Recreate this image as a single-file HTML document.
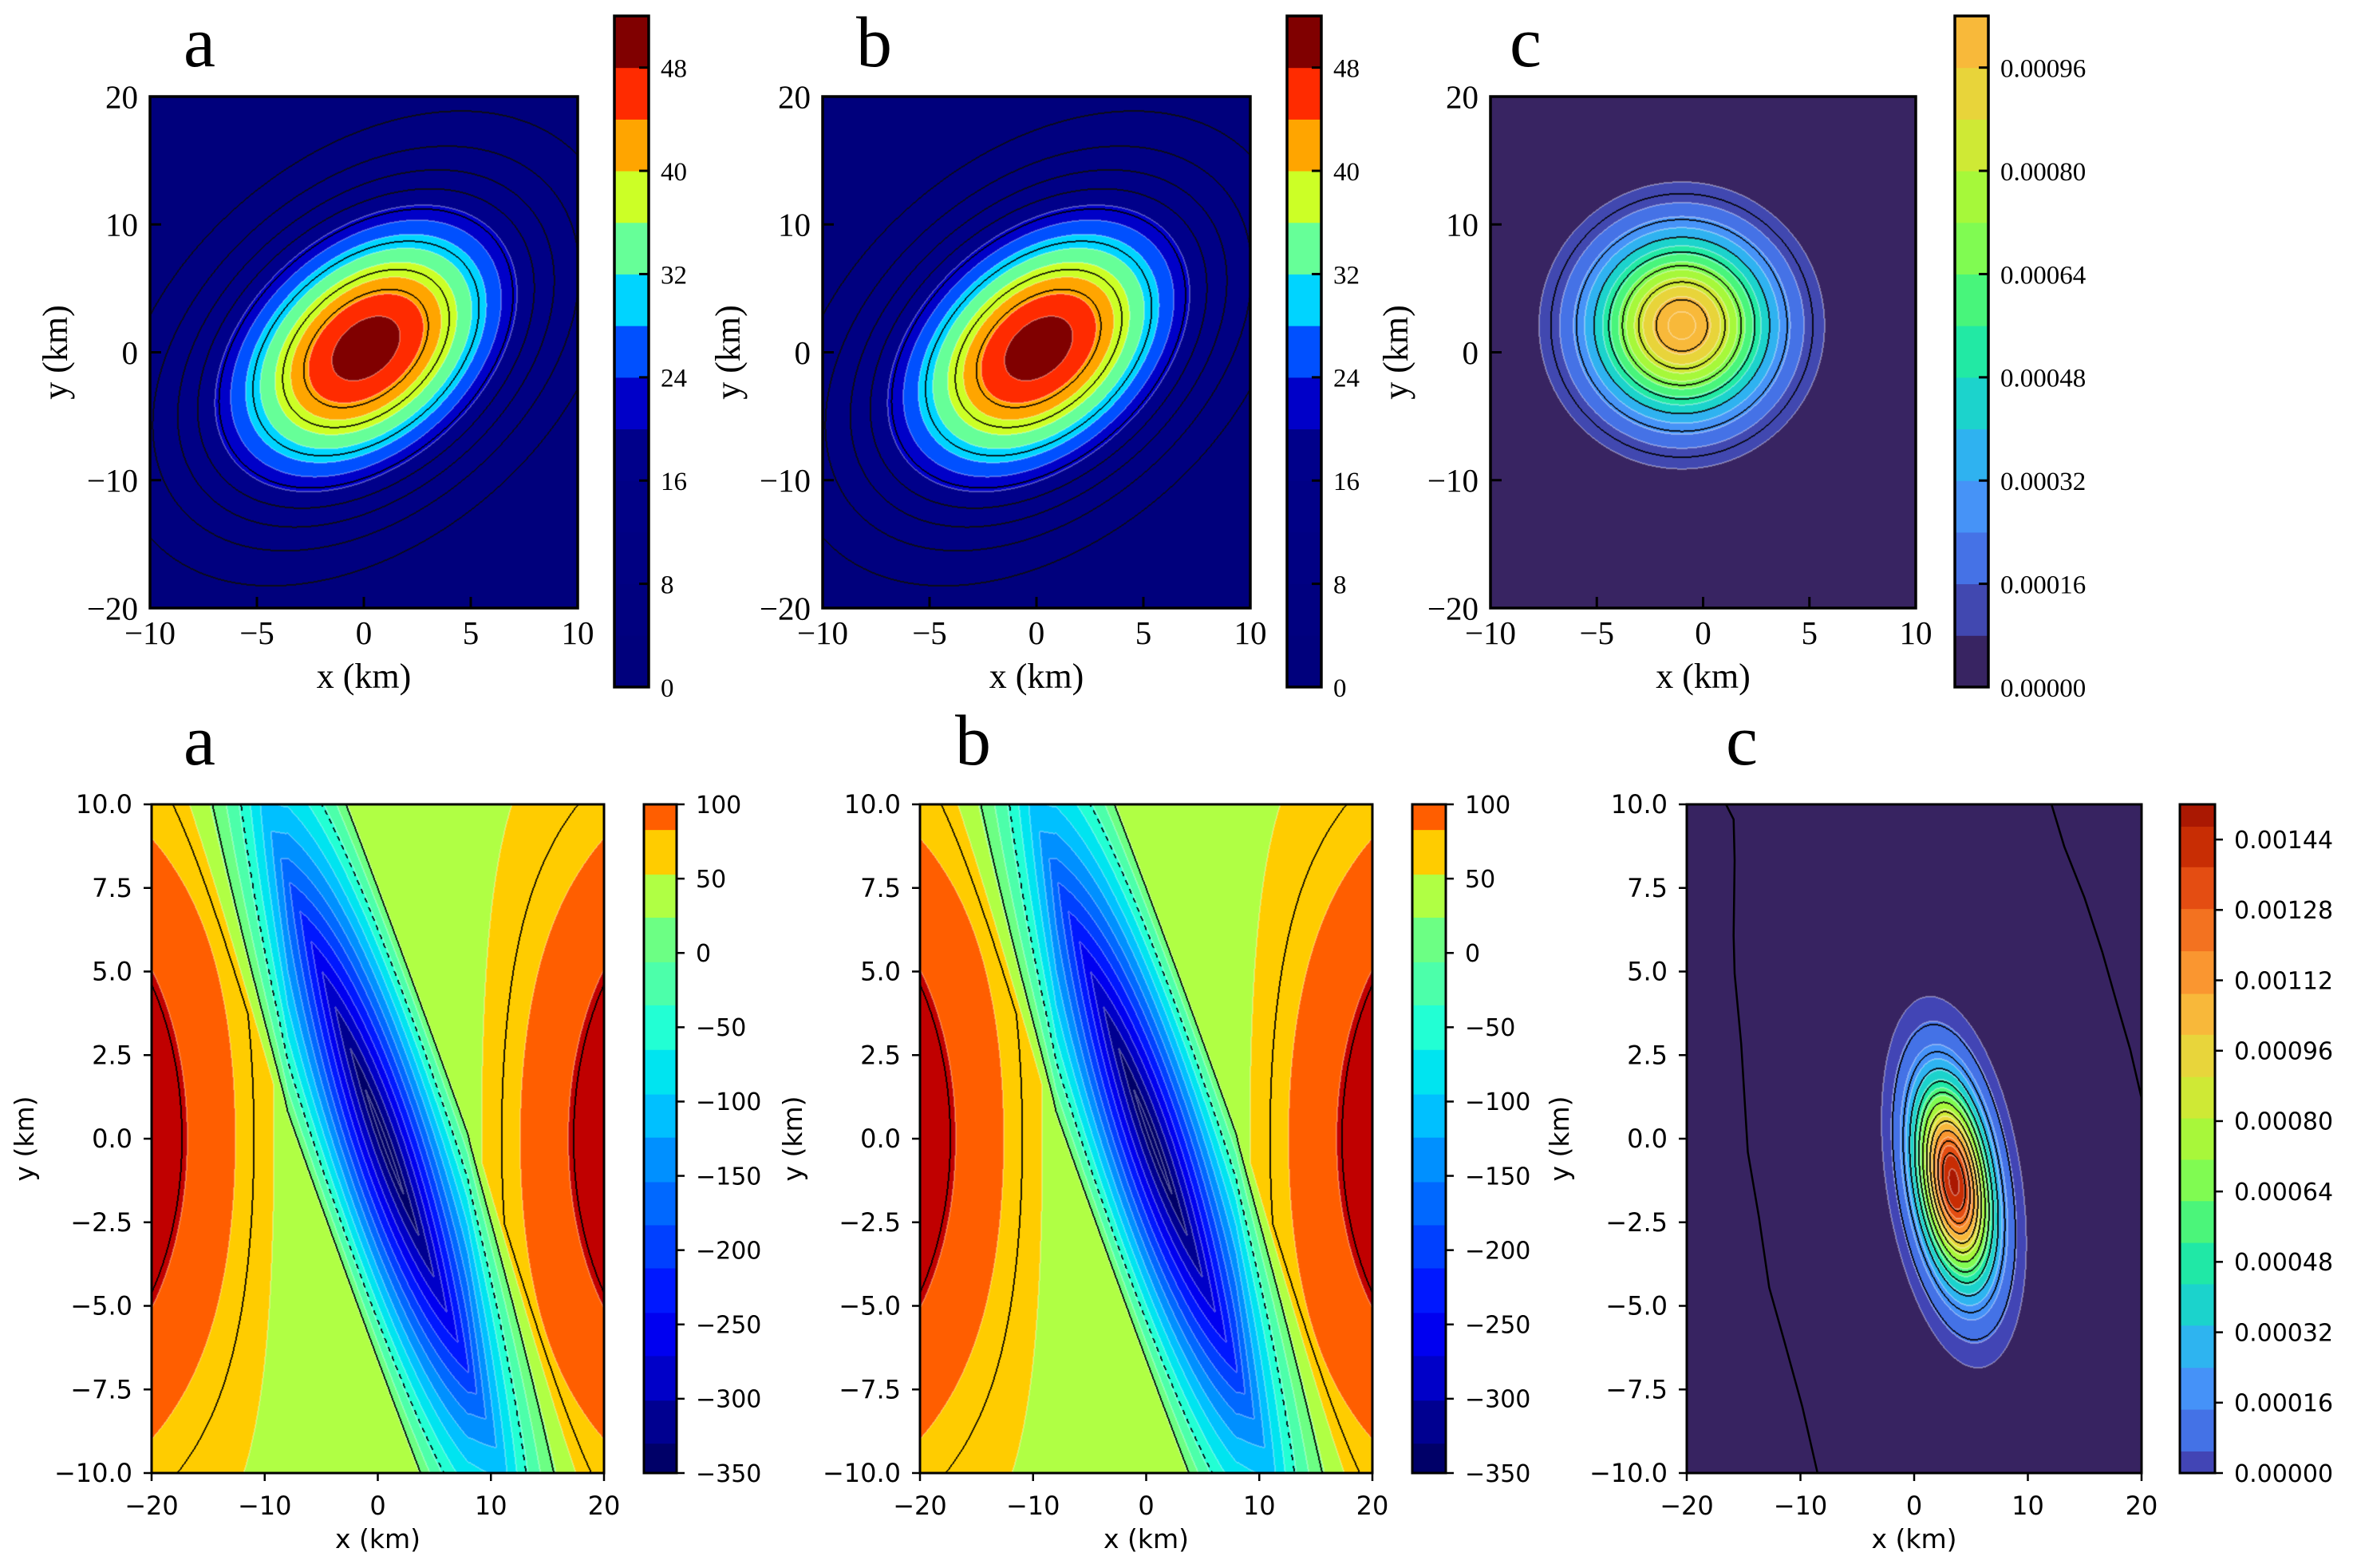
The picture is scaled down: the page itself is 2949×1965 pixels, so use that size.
<!DOCTYPE html>
<html><head><meta charset="utf-8">
<style>
body{margin:0;background:#fff}
#fig{position:relative;width:2949px;height:1965px;overflow:hidden;background:#fff}
#cv,#sv{position:absolute;left:0;top:0}
</style></head>
<body>
<div id="fig">
<canvas id="cv" width="2949" height="1965"></canvas>
<svg id="sv" width="2949" height="1965" xmlns="http://www.w3.org/2000/svg"></svg>
</div>
<script>
// ---------- DATA ----------
const topALevels=[0,4,8,12,16,20,24,28,32,36,40,44,48,52];
const topAColors=['#00007c','#00007f','#000082','#000085','#00008a','#0000c8','#0050ff','#00d4ff','#66ff98','#ccff26','#ffa500','#ff2b00','#800000'];
const topATicks=[0,8,16,24,32,40,48];
const topAPeak=[50.3];
const topACenter=[0.1,0.3];
const topASigma=[5.2,8.25];
const topARho=[0.38];
const topALineLevels=[4,8,12,16,21,30,38,43];

const topCLevels=[0,8e-5,16e-5,24e-5,32e-5,40e-5,48e-5,56e-5,64e-5,72e-5,80e-5,88e-5,96e-5,104e-5];
const topCColors=['#382462','#4148b0','#4572e6','#4693f7','#2fb2f0','#1cd3cc','#22e9a4','#48f57b','#80fb52','#a6f83a','#cfe935','#e8d43a','#f8b93a'];
const topCTicks=[0,16e-5,32e-5,48e-5,64e-5,80e-5,96e-5];
const topCPeak=[1.065e-3];
const topCCenter=[-1.0,2.1];
const topCSigma=[2.95,4.93];
const topCLineLevels=[12e-5,26e-5,40e-5,54e-5,68e-5,84e-5,98e-5];

const botALevels=[-350,-330,-301,-271,-242,-212,-183,-154,-124,-95,-65,-35,-6,24,53,83,112];
const botAColors=['#000068','#000090','#0000c8','#0000f0','#0018ff','#0040ff','#0068ff','#0090ff','#00c0ff','#00e4f0','#22ffd4','#4cffaa','#6cff84','#b0ff44','#ffcc00','#ff5e00'];
const botATicks=[-350,-300,-250,-200,-150,-100,-50,0,50,100];
const botABase=[35];
const botAEdgeAmp=[96];
const botATroughDepth=[395];
const botATroughCenter=[0.6,-0.1];
const botATroughSigma=[10.5];
const botATroughHalfWidth=[5.4];
const botASolidLines=[20,70,115];
const botADashedLines=[-40,-80,-120,-160,-200,-240,-280,-320];

const botCLevels=[0,5e-5,14.5e-5,24e-5,33.6e-5,43e-5,52.4e-5,61.9e-5,71.3e-5,80.7e-5,90.1e-5,99.7e-5,109e-5,118.7e-5,128.3e-5,137.8e-5,147e-5,160e-5];
const botCColors=['#4245b5','#4472e6','#4592f8','#2eb4f0','#1bd3cc','#20e8a6','#4bf57a','#80fb52','#a8f73a','#cfe935','#e8d53b','#f8b83a','#fa9630','#f37220','#e44d12','#c82d04','#aa1802'];
const botCTicks=[0,16e-5,32e-5,48e-5,64e-5,80e-5,96e-5,112e-5,128e-5,144e-5];
const botCPeak=[1.53e-3];
const botCOffset=[3e-5];
const botCCenter=[3.5,-1.3];
const botCSigma=[2.27,1.98];
const botCRho=[-0.33];
const botCLineLevels=[6e-5,19e-5,32e-5,45e-5,58e-5,71e-5,84e-5,97e-5,110e-5,123e-5,136e-5];
const botCLeftLineX=[-16.55,-15.88,-15.79,-15.88,-15.79,-15.21,-14.63,-13.65,-12.75,-11.41,-9.84,-8.50];
const botCLeftLineY=[10,9.55,8.33,6.07,4.94,2.83,-0.40,-2.35,-4.45,-6.07,-8.01,-10];
const botCRightLineX=[12.08,13.2,14.99,16.55,17.9,19.0,20];
const botCRightLineY=[10,8.74,7.2,5.58,3.96,2.67,1.21];

const topXTicks=[-10,-5,0,5,10];
const topYTicks=[-20,-10,0,10,20];
const botXTicks=[-20,-10,0,10,20];
const botYTicks=[-10,-7.5,-5,-2.5,0,2.5,5,7.5,10];

// ---------- FIELDS ----------
function fTopA(x,y){
  const dx=(x-topACenter[0])/topASigma[0], dy=(y-topACenter[1])/topASigma[1], r=topARho[0];
  const q=(dx*dx-2*r*dx*dy+dy*dy)/(1-r*r);
  return topAPeak[0]*Math.exp(-q/2);
}
function fTopC(x,y){
  const dx=(x-topCCenter[0])/topCSigma[0], dy=(y-topCCenter[1])/topCSigma[1];
  return topCPeak[0]*Math.exp(-(dx*dx+dy*dy)/2);
}
function fBotA(x,y){
  const u=Math.max(0,(Math.abs(x)-8)/12);
  const bg=botABase[0]+botAEdgeAmp[0]*Math.pow(u,0.72)*Math.exp(-Math.pow(y/10.8,2));
  const dx=x-botATroughCenter[0], dy=y-botATroughCenter[1];
  const a=0.734*dx-0.679*dy, b=0.679*dx+0.734*dy;
  const A=Math.exp(-0.5*Math.pow(a/botATroughSigma[0],2));
  const B=Math.max(0,1-Math.abs(b)/botATroughHalfWidth[0]);
  return bg-botATroughDepth[0]*A*B;
}
function fBotC(x,y){
  const dx=(x-botCCenter[0])/botCSigma[0], dy=(y-botCCenter[1])/botCSigma[1], r=botCRho[0];
  const q=(dx*dx-2*r*dx*dy+dy*dy)/(1-r*r);
  return botCPeak[0]*Math.exp(-q/2)-botCOffset[0];
}

// ---------- LAYOUT ----------
const panels=[
 {id:'top-a',x0:188,x1:724,y0:121,y1:762,xr:[-10,10],yr:[-20,20],fn:fTopA,levels:topALevels,colors:topAColors,under:'#00007c',over:'#800000',
  cb:{x0:770,x1:813,y0:20,y1:861,vmin:0,vmax:52,ticks:topATicks,fmt:v=>String(v)},style:'serif',letter:'a',lx:230,ly:83,
  lines:[{levels:topALevels,color:'#ffffff',alpha:0.3},{levels:topALineLevels,color:'#000000',alpha:0.85}]},
 {id:'top-b',x0:1031,x1:1567,y0:121,y1:762,xr:[-10,10],yr:[-20,20],fn:fTopA,levels:topALevels,colors:topAColors,under:'#00007c',over:'#800000',
  cb:{x0:1613,x1:1656,y0:20,y1:861,vmin:0,vmax:52,ticks:topATicks,fmt:v=>String(v)},style:'serif',letter:'b',lx:1073,ly:83,
  lines:[{levels:topALevels,color:'#ffffff',alpha:0.3},{levels:topALineLevels,color:'#000000',alpha:0.85}]},
 {id:'top-c',x0:1868,x1:2401,y0:121,y1:762,xr:[-10,10],yr:[-20,20],fn:fTopC,levels:topCLevels,colors:topCColors,under:'#382462',over:'#f8b93a',
  cb:{x0:2450,x1:2492,y0:20,y1:861,vmin:0,vmax:104e-5,ticks:topCTicks,fmt:v=>v.toFixed(5)},style:'serif',letter:'c',lx:1892,ly:83,
  lines:[{levels:topCLevels,color:'#ffffff',alpha:0.35},{levels:topCLineLevels,color:'#000000',alpha:0.85}]},
 {id:'bottom-a',x0:190,x1:757,y0:1008,y1:1846,xr:[-20,20],yr:[-10,10],fn:fBotA,levels:botALevels,colors:botAColors,under:'#000068',over:'#c00000',
  cb:{x0:807,x1:848,y0:1008,y1:1846,vmin:-350,vmax:100,ticks:botATicks,fmt:v=>String(v)},style:'sans',letter:'a',lx:230,ly:958,
  lines:[{levels:botALevels,color:'#ffffff',alpha:0.3},{levels:botASolidLines,color:'#000000',alpha:0.9},{levels:botADashedLines,color:'#000000',alpha:0.9,dash:true}]},
 {id:'bottom-b',x0:1153,x1:1720,y0:1008,y1:1846,xr:[-20,20],yr:[-10,10],fn:fBotA,levels:botALevels,colors:botAColors,under:'#000068',over:'#c00000',
  cb:{x0:1770,x1:1812,y0:1008,y1:1846,vmin:-350,vmax:100,ticks:botATicks,fmt:v=>String(v)},style:'sans',letter:'b',lx:1197,ly:958,
  lines:[{levels:botALevels,color:'#ffffff',alpha:0.3},{levels:botASolidLines,color:'#000000',alpha:0.9},{levels:botADashedLines,color:'#000000',alpha:0.9,dash:true}]},
 {id:'bottom-c',x0:2114,x1:2684,y0:1008,y1:1846,xr:[-20,20],yr:[-10,10],fn:fBotC,levels:botCLevels,colors:botCColors,under:'#372361',over:'#aa1802',
  cb:{x0:2732,x1:2776,y0:1008,y1:1846,vmin:0,vmax:152e-5,ticks:botCTicks,fmt:v=>v.toFixed(5)},style:'sans',letter:'c',lx:2163,ly:958,
  lines:[{levels:botCLevels,color:'#ffffff',alpha:0.35},{levels:botCLineLevels,color:'#000000',alpha:0.9}]}
];

const ctx=document.getElementById('cv').getContext('2d');
const svg=document.getElementById('sv');
const NS='http://www.w3.org/2000/svg';
function mk(tag,attrs,parent){const e=document.createElementNS(NS,tag);for(const k in attrs)e.setAttribute(k,attrs[k]);(parent||svg).appendChild(e);return e;}
function hexRgb(h){return [parseInt(h.slice(1,3),16),parseInt(h.slice(3,5),16),parseInt(h.slice(5,7),16)];}
function bandIdx(v,lv){let k=-1;for(let i=0;i<lv.length;i++){if(v>=lv[i])k=i;else break;}return k;}
function minus(s){return s.replace('-','\u2212');}

function renderField(p){
  const w=p.x1-p.x0,h=p.y1-p.y0;
  const img=ctx.createImageData(w,h);const d=img.data;
  const vals=new Float64Array(w*h);
  for(let j=0;j<h;j++)for(let i=0;i<w;i++){
    const x=p.xr[0]+(i+0.5)/w*(p.xr[1]-p.xr[0]);
    const y=p.yr[1]-(j+0.5)/h*(p.yr[1]-p.yr[0]);
    vals[j*w+i]=p.fn(x,y);
  }
  const cols=p.colors.map(hexRgb),under=hexRgb(p.under),over=hexRgb(p.over);
  for(let n=0;n<w*h;n++){
    const k=bandIdx(vals[n],p.levels);
    const c=k<0?under:(k>=cols.length?over:cols[k]);
    d[4*n]=c[0];d[4*n+1]=c[1];d[4*n+2]=c[2];d[4*n+3]=255;
  }
  for(const ls of p.lines){
    const idx=new Int16Array(w*h);
    for(let n=0;n<w*h;n++)idx[n]=bandIdx(vals[n],ls.levels);
    const col=hexRgb(ls.color),a=ls.alpha;
    const mark=new Uint8Array(w*h);
    for(let j=0;j<h;j++)for(let i=0;i<w;i++){
      const n=j*w+i;
      if(ls.dash && (((i+j)>>3)&1))continue;
      if(i+1<w && idx[n+1]!==idx[n]){mark[n]=1;mark[n+1]=1;}
      if(j+1<h && idx[n+w]!==idx[n]){mark[n]=1;mark[n+w]=1;}
    }
    for(let n=0;n<w*h;n++)if(mark[n]){
      d[4*n]=d[4*n]*(1-a)+col[0]*a;d[4*n+1]=d[4*n+1]*(1-a)+col[1]*a;d[4*n+2]=d[4*n+2]*(1-a)+col[2]*a;
    }
  }
  ctx.putImageData(img,p.x0,p.y0);
}

function drawAxes(p){
  const serif=p.style==='serif';
  const font=serif?'"Liberation Serif", serif':'"DejaVu Sans", "Liberation Sans", sans-serif';
  const g=mk('g',{});
  
  
  const sx=v=>p.x0+(v-p.xr[0])/(p.xr[1]-p.xr[0])*(p.x1-p.x0);
  const sy=v=>p.y1-(v-p.yr[0])/(p.yr[1]-p.yr[0])*(p.y1-p.y0);
  const xt=serif?topXTicks:botXTicks, yt=serif?topYTicks:botYTicks;
  const tl=serif?14:10, tw=serif?3:2.5;
  const tfs=serif?41:32;
  for(const v of xt){
    const X=sx(v);
    const t=mk('line',{x1:X,x2:X,y1:serif?p.y1-tl:p.y1,y2:serif?p.y1:p.y1+tl,stroke:'#000','stroke-width':tw},g);
    
    
    const lb=mk('text',{x:X,y:serif?807:1898,'text-anchor':'middle','font-family':font,'font-size':tfs,fill:'#000'},g);
    lb.textContent=minus(String(v));
    
    
  }
  for(const v of yt){
    const Y=sy(v);
    const t=mk('line',{x1:serif?p.x0:p.x0-tl,x2:serif?p.x0+tl:p.x0,y1:Y,y2:Y,stroke:'#000','stroke-width':tw},g);
    
    
    const lb=mk('text',{x:serif?p.x0-15:p.x0-24,y:Y+tfs*0.35,'text-anchor':'end','font-family':font,'font-size':tfs,fill:'#000'},g);
    lb.textContent=minus(serif?String(v):v.toFixed(1));
    
    
  }
  const fr=mk('rect',{x:p.x0,y:p.y0,width:p.x1-p.x0,height:p.y1-p.y0,fill:'none',stroke:'#000','stroke-width':serif?3.5:3},g);
  
  
  const xl=mk('text',{x:(p.x0+p.x1)/2,y:serif?862:1940,'text-anchor':'middle','font-family':font,'font-size':serif?44:33,fill:'#000'},g);
  xl.textContent='x (km)';
  
  
  const yx=serif?p.x0-104:p.x0-148, yy=(p.y0+p.y1)/2;
  const yl=mk('text',{x:yx,y:yy,'text-anchor':'middle','font-family':font,'font-size':serif?44:33,fill:'#000',transform:`rotate(-90 ${yx} ${yy})`},g);
  yl.textContent='y (km)';
  
  
  const le=mk('text',{x:p.lx,y:p.ly,'font-family':'"Liberation Serif", serif','font-size':90,fill:'#000'},g);
  le.textContent=p.letter;
  
  
  // colorbar
  const cb=p.cb;
  const cy=v=>cb.y1-(v-cb.vmin)/(cb.vmax-cb.vmin)*(cb.y1-cb.y0);
  for(let i=0;i<p.colors.length;i++){
    const lo=Math.max(p.levels[i],cb.vmin), hi=Math.min(p.levels[i+1],cb.vmax);
    if(hi<=lo)continue;
    const r=mk('rect',{x:cb.x0,y:cy(hi),width:cb.x1-cb.x0,height:cy(lo)-cy(hi)+0.5,fill:p.colors[i]},g);
    
    
  }
  const cf=mk('rect',{x:cb.x0,y:cb.y0,width:cb.x1-cb.x0,height:cb.y1-cb.y0,fill:'none',stroke:'#000','stroke-width':serif?3.5:3},g);
  
  
  const cfs=serif?33:30;
  for(const v of cb.ticks){
    const Y=cy(v);
    const t=mk('line',{x1:serif?cb.x1-12:cb.x1,x2:serif?cb.x1:cb.x1+10,y1:Y,y2:Y,stroke:'#000','stroke-width':tw},g);
    
    
    const lb=mk('text',{x:serif?cb.x1+15:cb.x1+24,y:Y+cfs*0.36,'font-family':font,'font-size':cfs,fill:'#000'},g);
    lb.textContent=minus(cb.fmt(v));
    
    
  }
  return {sx,sy,g};
}

for(const p of panels){
  renderField(p);
  const ax=drawAxes(p);
  if(p.id==='bottom-c'){
    const pts1=botCLeftLineX.map((x,i)=>ax.sx(x)+','+ax.sy(botCLeftLineY[i])).join(' ');
    const l1=mk('polyline',{points:pts1,fill:'none',stroke:'#000','stroke-width':2.5},ax.g);
    
    
    const pts2=botCRightLineX.map((x,i)=>ax.sx(x)+','+ax.sy(botCRightLineY[i])).join(' ');
    const l2=mk('polyline',{points:pts2,fill:'none',stroke:'#000','stroke-width':2.5},ax.g);
    
    
  }
}
</script>
</body></html>
